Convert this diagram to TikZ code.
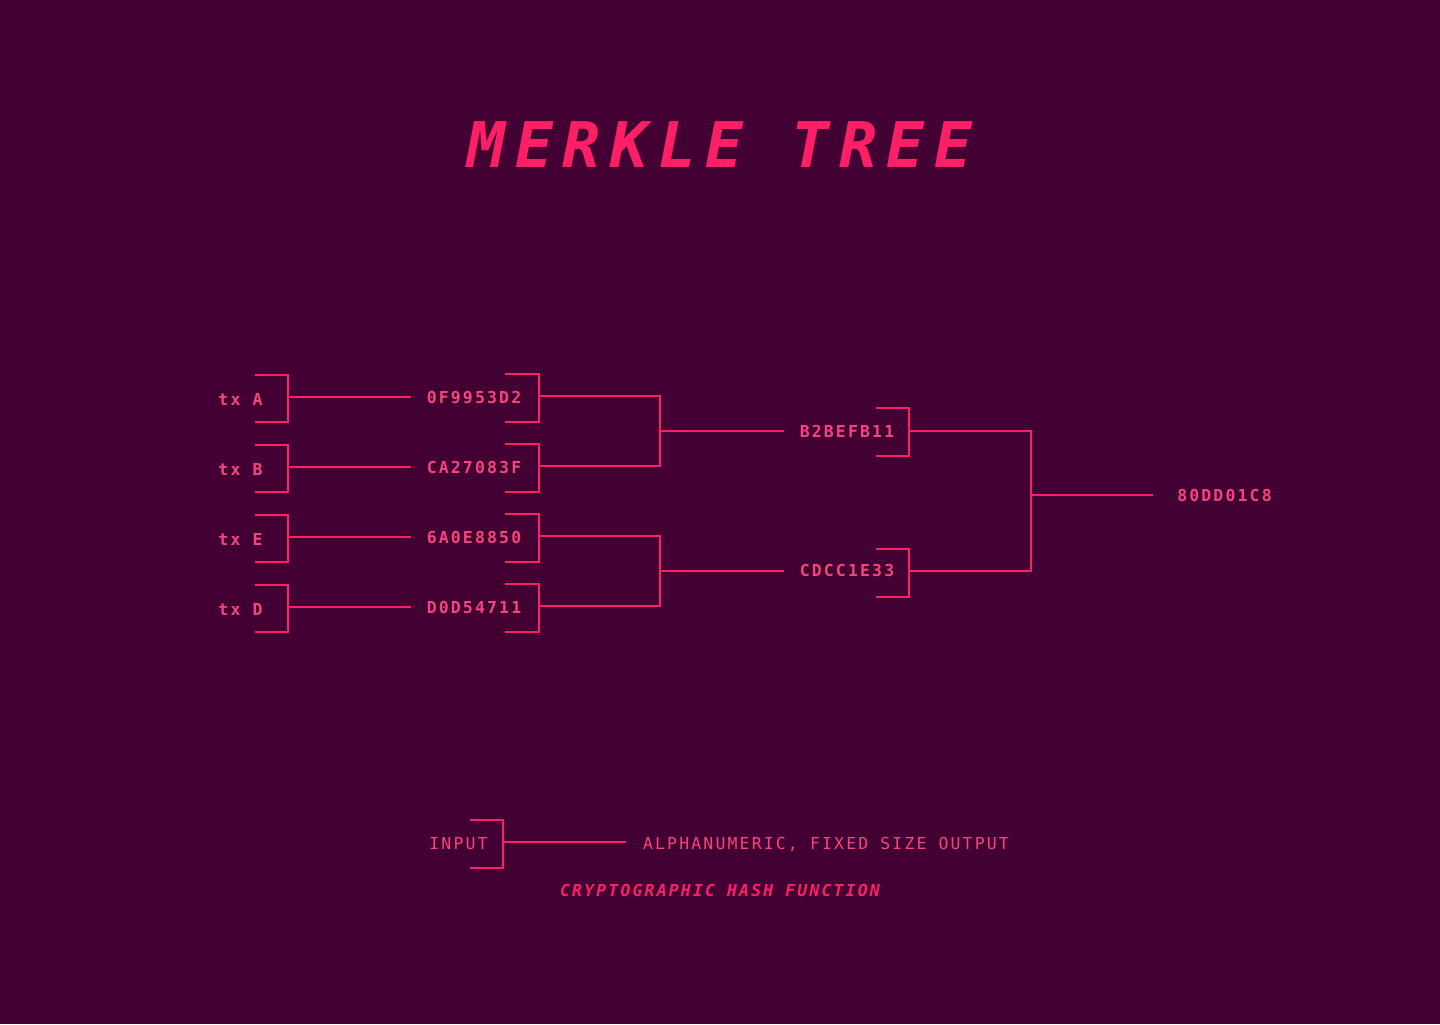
\documentclass[tikz,border=0pt]{standalone}
\usepackage{fontspec}
\newfontfamily\monofont[LetterSpace=13,
  BoldFont={DejaVu Sans Mono Bold},
  ItalicFont={DejaVu Sans Mono Oblique},
  BoldItalicFont={DejaVu Sans Mono Bold Oblique}]{DejaVu Sans Mono}
\newfontfamily\headfont[LetterSpace=15.5,
  BoldItalicFont={DejaVu Sans Mono Bold Oblique}]{DejaVu Sans Mono}
\definecolor{plum}{HTML}{420033}
\definecolor{hotpink}{HTML}{FF1F66}
\definecolor{softpink}{HTML}{F5457C}
\tikzset{
    wire/.style={hotpink, line width=1pt},
    hashtext/.style={softpink, inner sep=0pt, anchor=base, font=\monofont\bfseries\fontsize{8.25}{10}\selectfont},
    legendtext/.style={softpink, inner sep=0pt, anchor=base, font=\monofont\fontsize{8.25}{10}\selectfont},
    captiontext/.style={hotpink, inner sep=0pt, anchor=base, font=\monofont\bfseries\itshape\fontsize{8.25}{10}\selectfont},
    titletext/.style={hotpink, inner sep=0pt, anchor=base, font=\headfont\bfseries\itshape\fontsize{31.5}{36}\selectfont}
}

\begin{document}
\begin{tikzpicture}[x=0.5pt, y=-0.5pt]
    \fill[plum] (0,0) rectangle (1440,1024);
    \useasboundingbox (0,0) rectangle (1440,1024);
    \node[titletext] (title) at (720,167) {MERKLE TREE};
    % leaves and their hashes
    \foreach \tx/\hash/\r [count=\i] in {A/0F9953D2/397, B/CA27083F/467, E/6A0E8850/537, D/D0D54711/607} {
        \node[hashtext] (tx\i) at (240.5,\r+8) {tx \tx};
        \node[hashtext] (h\i) at (474,\r+6) {\hash};
        \coordinate (txb\i) at (288,\r);
        \coordinate (hin\i) at (411,\r);
        \coordinate (hb\i) at (539,\r-1);
        \draw[wire] (255,\r-22.5) -| (txb\i) |- (255,\r+25);
        \draw[wire] (txb\i) -- (hin\i);
        \draw[wire] (505,\r-23.5) -| (hb\i) |- (505,\r+25);
    }
    % second level
    \coordinate (j1) at (660,431);
    \coordinate (j2) at (660,571);
    \coordinate (m1in) at (784,431);
    \coordinate (m2in) at (784,571);
    \draw[wire] (hb1) -| (j1) |- (hb2);
    \draw[wire] (hb3) -| (j2) |- (hb4);
    \draw[wire] (j1) -- (m1in);
    \draw[wire] (j2) -- (m2in);
    \node[hashtext] (m1) at (847,437) {B2BEFB11};
    \node[hashtext] (m2) at (847,576) {CDCC1E33};
    \coordinate (mb1) at (909,431);
    \coordinate (mb2) at (909,571);
    \draw[wire] (876,408) -| (mb1) |- (876,456);
    \draw[wire] (876,549) -| (mb2) |- (876,597);
    % root
    \coordinate (rj) at (1031,495);
    \coordinate (rin) at (1153,495);
    \draw[wire] (mb1) -| (rj) |- (mb2);
    \draw[wire] (rj) -- (rin);
    \node[hashtext] (root) at (1224.5,501) {80DD01C8};
    % legend
    \node[legendtext] (input) at (458.5,849) {INPUT};
    \coordinate (lb) at (503,842);
    \coordinate (lout) at (626,842);
    \draw[wire] (470,820) -| (lb) |- (470,868);
    \draw[wire] (lb) -- (lout);
    \node[legendtext] (output) at (826,849) {ALPHANUMERIC, FIXED SIZE OUTPUT};
    \node[captiontext] (caption) at (720,896) {CRYPTOGRAPHIC HASH FUNCTION};
\end{tikzpicture}
\end{document}
